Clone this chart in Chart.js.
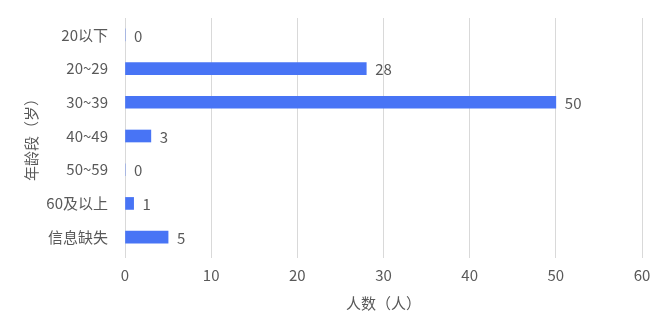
<!DOCTYPE html>
<html>
<head>
<meta charset="utf-8">
<script src="https://cdn.jsdelivr.net/npm/chart.js@4"></script>
<style>
  html, body { margin: 0; padding: 0; background: #fff; }
  #wrap { width: 668px; height: 332px; }
</style>
</head>
<body>
<div id="wrap"><canvas id="ageChart"></canvas></div>
<script>
// age groups and head counts
var ageGroups = ["20以下", "20~29", "30~39", "40~49", "50~59", "60及以上", "信息缺失"];
var counts = [0, 28, 50, 3, 0, 1, 5];
var xTicks = [0, 10, 20, 30, 40, 50, 60];

var FONT = '"Microsoft YaHei", "Noto Sans CJK SC", sans-serif';
var TEXT = '#595959';

// draws the number just right of each bar
var valueLabels = {
    id: 'valueLabels',
    afterDatasetsDraw: function (chart) {
        var ctx = chart.ctx;
        var meta = chart.getDatasetMeta(0);
        ctx.save();
        ctx.font = '15px ' + FONT;
        ctx.fillStyle = TEXT;
        ctx.textAlign = 'left';
        ctx.textBaseline = 'middle';
        meta.data.forEach(function (bar, i) {
            ctx.fillText(String(counts[i]), bar.x + 9, bar.y + 1);
        });
        ctx.restore();
    }
};

var ctx = document.getElementById('ageChart').getContext('2d');
var chart = new Chart(ctx, {
    type: 'bar',
    data: {
        labels: ageGroups,
        datasets: [{
            data: counts,
            backgroundColor: '#4874F5',
            barThickness: 12
        }]
    },
    options: {
        indexAxis: 'y',
        responsive: true,
        maintainAspectRatio: false,
        animation: false,
        layout: { padding: { left: 18, top: 8, right: 26, bottom: 0 } },
        plugins: {
            legend: { display: false },
            tooltip: { enabled: false }
        },
        scales: {
            x: {
                min: 0,
                max: 60,
                afterBuildTicks: function (scale) {
                    scale.ticks = xTicks.map(function (v) { return { value: v }; });
                },
                grid: { color: '#d9d9d9', tickLength: 4, drawTicks: true },
                border: { display: false },
                ticks: { color: TEXT, font: { family: FONT, size: 15 }, padding: 8 },
                title: {
                    display: true,
                    text: '人数（人）',
                    color: TEXT,
                    font: { family: FONT, size: 15 },
                    padding: { top: 4, bottom: 20 }
                },
                afterFit: function (scale) { scale.height = 78; }
            },
            y: {
                grid: { display: false },
                border: { display: false },
                ticks: { color: TEXT, font: { family: FONT, size: 15 }, padding: 9 },
                title: {
                    display: true,
                    text: '年龄段（岁）',
                    color: TEXT,
                    font: { family: FONT, size: 15 },
                    padding: { top: 4, bottom: 4 }
                },
                afterFit: function (scale) { scale.width = 107; }
            }
        }
    },
    plugins: [valueLabels]
});
</script>
</body>
</html>
